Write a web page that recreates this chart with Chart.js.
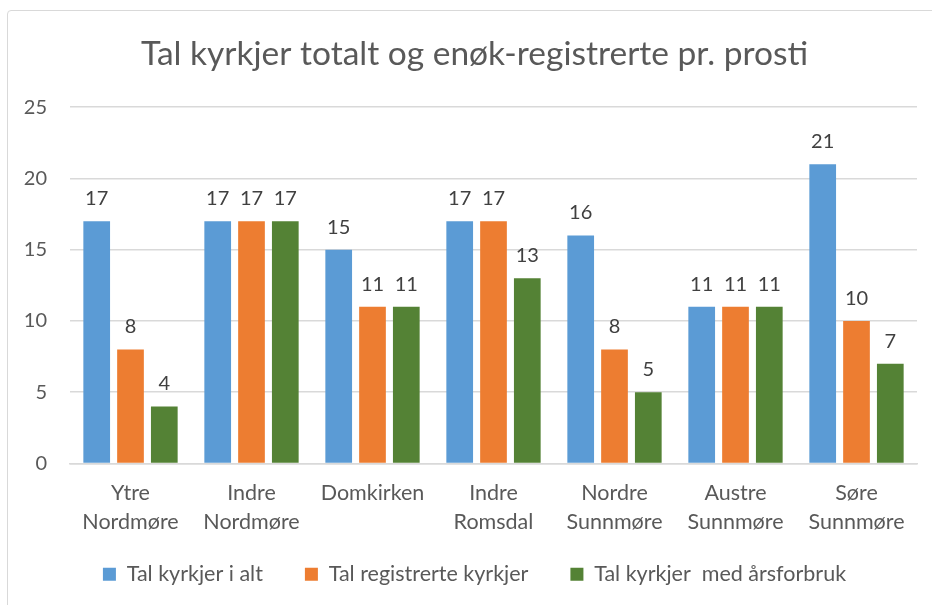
<!DOCTYPE html>
<html>
<head>
<meta charset="utf-8">
<script src="https://cdn.jsdelivr.net/npm/chart.js@4/dist/chart.umd.min.js"></script>
<style>
  html, body { margin: 0; padding: 0; background: #ffffff; }
  #wrap { position: relative; width: 932px; height: 605px; overflow: hidden; }
  #frame { position: absolute; left: 7px; top: 10px; width: 1000px; height: 700px;
           border: 1.5px solid #D9D9D9; border-radius: 4px; box-sizing: border-box; }
  canvas { position: absolute; left: 0; top: 0; }
</style>
</head>
<body>
<div id="wrap">
  <div id="frame"></div>
  <canvas id="c" width="932" height="605"></canvas>
</div>
<script>
const categories = [
  ['Ytre', 'Nordmøre'],
  ['Indre', 'Nordmøre'],
  'Domkirken',
  ['Indre', 'Romsdal'],
  ['Nordre', 'Sunnmøre'],
  ['Austre', 'Sunnmøre'],
  ['Søre', 'Sunnmøre']
];
const seriesNames = ['Tal kyrkjer i alt', 'Tal registrerte kyrkjer', 'Tal kyrkjer  med årsforbruk'];
const totalChurches = [17, 17, 15, 17, 16, 11, 21];
const registeredChurches = [8, 17, 11, 17, 8, 11, 10];
const annualUseChurches = [4, 17, 11, 13, 5, 11, 7];
const yTicks = [0, 5, 10, 15, 20, 25];
const chartTitle = 'Tal kyrkjer totalt og enøk-registrerte pr. prosti';

const FONT = 'Lato, "Open Sans", sans-serif';
const colors = ['#5B9BD5', '#ED7D31', '#548235'];

const valueLabels = {
  id: 'valueLabels',
  afterDatasetsDraw(chart) {
    const ctx = chart.ctx;
    ctx.save();
    ctx.font = '20px ' + FONT;
    ctx.fillStyle = '#404040';
    ctx.textAlign = 'center';
    ctx.textBaseline = 'alphabetic';
    chart.data.datasets.forEach((ds, i) => {
      const meta = chart.getDatasetMeta(i);
      meta.data.forEach((el, j) => {
        ctx.fillText(String(ds.data[j]), el.x, el.y - 16);
      });
    });
    ctx.restore();
  }
};

// give the axis labels room outside their layout boxes
const labelRoom = {
  id: 'labelRoom',
  afterLayout(chart) {
    const x = chart.scales.x;
    x.bottom = x.top + 90;
    const y = chart.scales.y;
    y.left = 0;
  }
};

const seriesData = [totalChurches, registeredChurches, annualUseChurches];

new Chart(document.getElementById('c'), {
  type: 'bar',
  data: {
    labels: categories,
    datasets: seriesData.map((d, i) => ({
      label: seriesNames[i],
      data: d,
      backgroundColor: colors[i],
      borderWidth: 0,
      categoryPercentage: 0.838,
      barPercentage: 0.79
    }))
  },
  options: {
    responsive: false,
    animation: false,
    devicePixelRatio: 1,
    layout: { padding: { left: 32, right: 15, top: 0, bottom: 10 } },
    plugins: {
      title: {
        display: true,
        text: chartTitle,
        color: '#595959',
        font: { family: FONT, size: 33.5, weight: 'normal', lineHeight: 1.2 },
        padding: { top: 34, bottom: 33 }
      },
      legend: {
        position: 'bottom',
        labels: {
          color: '#595959',
          font: { family: FONT, size: 21.5 },
          boxWidth: 13,
          boxHeight: 13,
          padding: 42
        }
      },
      tooltip: { enabled: false }
    },
    scales: {
      x: {
        grid: { display: false, drawTicks: false },
        border: { display: true, color: '#D9D9D9', width: 1.5 },
        ticks: {
          color: '#595959',
          font: { family: FONT, size: 21.5, lineHeight: 1.35 },
          padding: 15.5,
          maxRotation: 0,
          autoSkip: false
        },
        afterFit(scale) { scale.height = 58; }
      },
      y: {
        min: 0,
        max: 25,
        afterBuildTicks(scale) { scale.ticks = yTicks.map(v => ({ value: v })); },
        grid: { color: '#D9D9D9', lineWidth: 1.5, drawTicks: false },
        border: { display: false },
        ticks: {
          color: '#595959',
          font: { family: FONT, size: 20 },
          padding: 23
        },
        afterFit(scale) { scale.width = 38; }
      }
    }
  },
  plugins: [valueLabels, labelRoom]
});
</script>
</body>
</html>
